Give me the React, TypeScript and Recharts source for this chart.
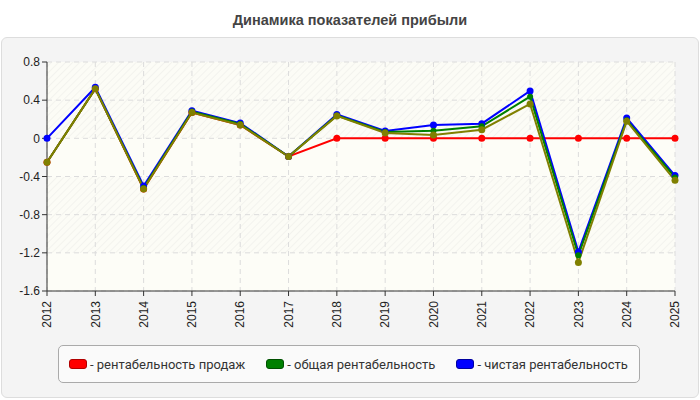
import React from "react";
import {
  LineChart,
  Line,
  XAxis,
  YAxis,
  CartesianGrid
} from "recharts";

const years = ["2012", "2013", "2014", "2015", "2016", "2017", "2018", "2019", "2020", "2021", "2022", "2023", "2024", "2025"];
const salesMargin = [-0.25, 0.52, -0.53, 0.27, 0.14, -0.19, 0, 0, 0, 0, 0, 0, 0, 0];
const totalMargin = [-0.25, 0.52, -0.52, 0.28, 0.15, -0.19, 0.24, 0.066, 0.08, 0.126, 0.437, -1.225, 0.19, -0.41];
const netMargin = [0, 0.535, -0.5, 0.29, 0.16, -0.19, 0.25, 0.077, 0.14, 0.154, 0.497, -1.19, 0.213, -0.39];
const extraMargin = [-0.25, 0.52, -0.53, 0.27, 0.14, -0.19, 0.235, 0.056, 0.035, 0.09, 0.36, -1.3, 0.18, -0.44];
const yTicks = [-1.6, -1.2, -0.8, -0.4, 0, 0.4, 0.8];

const legendItems = [
  { label: "- рентабельность продаж", color: "#ff0000", border: "#b00000" },
  { label: "- общая рентабельность", color: "#008000", border: "#005000" },
  { label: "- чистая рентабельность", color: "#0000ff", border: "#0000a0" }
];

const data = years.map((y, i) => ({
  year: y,
  sales: salesMargin[i],
  total: totalMargin[i],
  net: netMargin[i],
  extra: extraMargin[i]
}));

const font = "'Liberation Sans', Arial, sans-serif";

function YearTick(props: any) {
  const { x, y, payload } = props;
  return (
    <text
      transform={`translate(${x},${y + 3}) rotate(-90)`}
      textAnchor="end"
      dy="0.35em"
      fontSize={12}
      fill="#222"
      fontFamily={font}
    >
      {payload.value}
    </text>
  );
}

// legend drawn as plain html so it does not eat the plot height
function LegendBox() {
  return (
    <div
      style={{
        position: "absolute",
        left: 58,
        top: 345,
        width: 582,
        height: 38,
        border: "1px solid #aaa",
        borderRadius: 5,
        background: "#fafafa",
        display: "flex",
        alignItems: "center",
        fontFamily: "Roboto, 'Liberation Sans', sans-serif",
        fontSize: 13,
        color: "#333",
        boxSizing: "border-box",
        whiteSpace: "nowrap"
      }}
    >
      {legendItems.map((it, i) => (
        <div key={i} style={{ display: "flex", alignItems: "center", marginLeft: i === 0 ? 10 : 21 }}>
          <span
            style={{
              display: "inline-block",
              width: 16,
              height: 8,
              background: it.color,
              border: `1px solid ${it.border}`,
              borderRadius: 3,
              marginRight: 3
            }}
          />
          <span>{it.label}</span>
        </div>
      ))}
    </div>
  );
}

export default function App() {
  return (
    <div style={{ position: "absolute", left: 0, top: 0, width: 700, height: 400, background: "#fff", fontFamily: font }}>
      <div
        style={{
          position: "absolute",
          left: 0,
          top: 0,
          width: 700,
          textAlign: "center",
          fontWeight: "bold",
          fontSize: 14.5,
          color: "#444",
          lineHeight: "40px"
        }}
      >
        Динамика показателей прибыли
      </div>
      <div
        style={{
          position: "absolute",
          left: 1,
          top: 37,
          width: 696,
          height: 359,
          background: "#f4f4f4",
          border: "1px solid #ddd",
          borderRadius: 6
        }}
      />
      <div style={{ position: "absolute", left: 0, top: 0 }}>
        <LineChart width={700} height={400} data={data} margin={{ top: 62, right: 25, left: 7, bottom: 69 }}>
          <defs>
            <pattern id="hatch" width="5" height="5" patternUnits="userSpaceOnUse" patternTransform="rotate(45)">
              <rect width="5" height="5" fill="#fcfcf6" />
              <line x1="0" y1="0" x2="0" y2="5" stroke="#f0f0ec" strokeWidth="1.5" />
            </pattern>
          </defs>
          <CartesianGrid
            stroke="#dcdcdc"
            strokeDasharray="5 4"
            horizontalFill={["url(#hatch)", "url(#hatch)", "#fdfdf7", "url(#hatch)", "url(#hatch)", "#fdfdf7"]}
            fillOpacity={1}
          />
          <XAxis
            dataKey="year"
            interval={0}
            height={40}
            tick={<YearTick />}
            tickLine={{ stroke: "#333" }}
            axisLine={{ stroke: "#333" }}
            tickSize={5}
          />
          <YAxis
            type="number"
            domain={[-1.6, 0.8]}
            ticks={yTicks}
            width={40}
            tick={{ fontSize: 12, fill: "#222", fontFamily: font }}
            tickLine={{ stroke: "#333" }}
            axisLine={{ stroke: "#333" }}
            tickSize={5}
            allowDataOverflow
          />
          <Line dataKey="sales" stroke="#ff0000" strokeWidth={2} dot={{ r: 3.5, fill: "#ff0000", stroke: "#ff0000", strokeWidth: 0 }} isAnimationActive={false} />
          <Line dataKey="net" stroke="#0000ff" strokeWidth={2} dot={{ r: 3.5, fill: "#0000ff", stroke: "#0000ff", strokeWidth: 0 }} isAnimationActive={false} />
          <Line dataKey="total" stroke="#008000" strokeWidth={2} dot={{ r: 3, fill: "#008000", stroke: "#008000", strokeWidth: 0 }} isAnimationActive={false} />
          <Line dataKey="extra" stroke="#808000" strokeWidth={2} dot={{ r: 3.5, fill: "#808000", stroke: "#808000", strokeWidth: 0 }} isAnimationActive={false} />
        </LineChart>
      </div>
      <LegendBox />
    </div>
  );
}
